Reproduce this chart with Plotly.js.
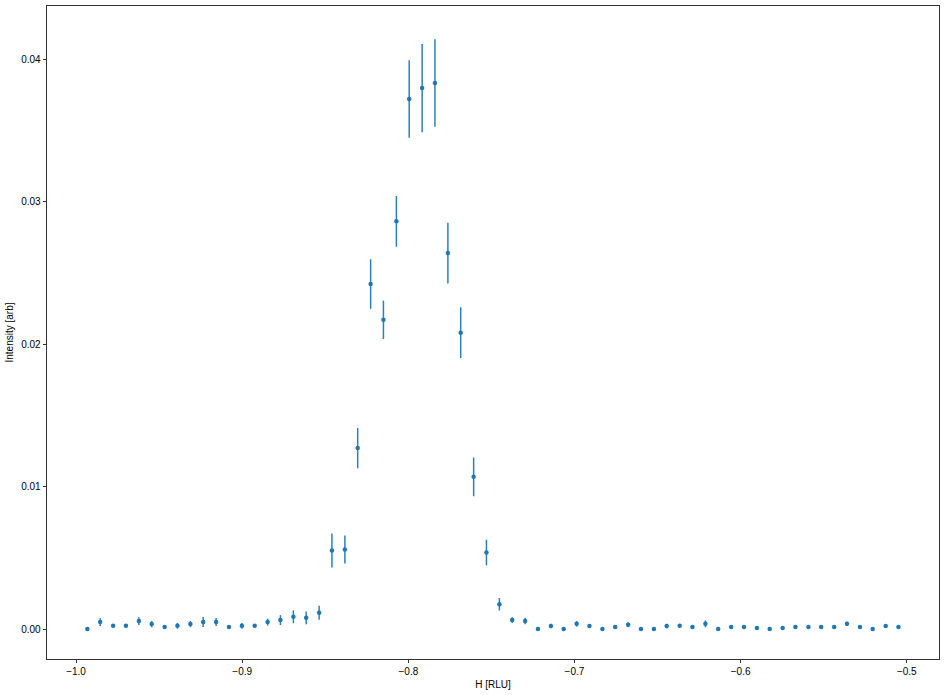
<!DOCTYPE html>
<html>
<head>
<meta charset="utf-8">
<script src="https://cdn.plot.ly/plotly-3.0.1.min.js"></script>
<style>
  html, body { margin: 0; padding: 0; background: #fff; }
  #plot { width: 946px; height: 695px; }
</style>
</head>
<body>
<div id="plot"></div>
<script>
// H positions of the scan
const hRlu = [
  -0.9932, -0.9855, -0.9777, -0.9700, -0.9622, -0.9545, -0.9467, -0.9390,
  -0.9312, -0.9235, -0.9157, -0.9080, -0.9002, -0.8925, -0.8847, -0.8770,
  -0.8692, -0.8615, -0.8537, -0.8460, -0.8382, -0.8305, -0.8227, -0.8150,
  -0.8072, -0.7995, -0.7917, -0.7840, -0.7762, -0.7685, -0.7607, -0.7530,
  -0.7452, -0.7375, -0.7297, -0.7220, -0.7142, -0.7065, -0.6987, -0.6910,
  -0.6832, -0.6755, -0.6677, -0.6600, -0.6522, -0.6445, -0.6367, -0.6290,
  -0.6212, -0.6135, -0.6057, -0.5980, -0.5902, -0.5825, -0.5747, -0.5670,
  -0.5592, -0.5515, -0.5437, -0.5360, -0.5282, -0.5205, -0.5127, -0.5050
];

const intensity = [
  0.00000, 0.00049, 0.00023, 0.00023, 0.00056, 0.00035, 0.00014, 0.00023,
  0.00035, 0.00049, 0.00049, 0.00014, 0.00023, 0.00023, 0.00049, 0.00063,
  0.00086, 0.00079, 0.00114, 0.00551, 0.00558, 0.01270, 0.02421, 0.02170,
  0.02861, 0.03720, 0.03796, 0.03831, 0.02638, 0.02080, 0.01068, 0.00537,
  0.00174, 0.00063, 0.00056, 0.00000, 0.00021, 0.00000, 0.00037, 0.00021,
  0.00000, 0.00014, 0.00030, 0.00000, 0.00000, 0.00021, 0.00023, 0.00014,
  0.00037, 0.00000, 0.00014, 0.00014, 0.00007, 0.00000, 0.00007, 0.00014,
  0.00014, 0.00014, 0.00014, 0.00037, 0.00014, 0.00000, 0.00021, 0.00014
];

const intensityErr = [
  0.00005, 0.00027, 0.00010, 0.00010, 0.00027, 0.00022, 0.00010, 0.00020,
  0.00022, 0.00035, 0.00028, 0.00010, 0.00020, 0.00010, 0.00024, 0.00035,
  0.00045, 0.00045, 0.00049, 0.00119, 0.00098, 0.00142, 0.00174, 0.00135,
  0.00178, 0.00272, 0.00310, 0.00307, 0.00213, 0.00178, 0.00136, 0.00090,
  0.00044, 0.00020, 0.00023, 0.00005, 0.00016, 0.00005, 0.00020, 0.00014,
  0.00005, 0.00010, 0.00017, 0.00005, 0.00005, 0.00016, 0.00010, 0.00010,
  0.00024, 0.00005, 0.00010, 0.00010, 0.00007, 0.00005, 0.00007, 0.00010,
  0.00010, 0.00010, 0.00010, 0.00015, 0.00010, 0.00005, 0.00010, 0.00010
];

const xTicks = [-1.0, -0.9, -0.8, -0.7, -0.6, -0.5];
const yTicks = [0.00, 0.01, 0.02, 0.03, 0.04];

var trace = {
    x: hRlu,
    y: intensity,
    type: 'scatter',
    mode: 'markers',
    marker: {color: '#1f77b4', size: 4.5},
    error_y: {
        type: 'data',
        array: intensityErr,
        visible: true,
        color: '#2b80bc',
        thickness: 1.5,
        width: 0
    },
    showlegend: false
};

const axisStyle = {
    showgrid: false,
    zeroline: false,
    showline: true,
    mirror: true,
    linecolor: '#000',
    linewidth: 0.8,
    ticks: 'outside',
    ticklen: 3.5,
    tickwidth: 0.8,
    tickcolor: '#000',
    tickfont: {family: 'Liberation Sans, Arial, sans-serif', size: 10, color: '#000'}
};

const layout = {
    width: 946,
    height: 695,
    margin: {l: 47, r: 7, t: 6, b: 36},
    paper_bgcolor: '#fff',
    plot_bgcolor: '#fff',
    font: {family: 'Liberation Sans, Arial, sans-serif', size: 10, color: '#000'},
    xaxis: Object.assign({}, axisStyle, {
        range: [-1.0175, -0.4806],
        tickvals: xTicks,
        tickformat: '.1f',
        title: {text: 'H [RLU]', font: {size: 10}, standoff: 4}
    }),
    yaxis: Object.assign({}, axisStyle, {
        range: [-0.0021, 0.04372],
        tickvals: yTicks,
        tickformat: '.2f',
        title: {text: 'Intensity [arb]', font: {size: 10}, standoff: 5}
    })
};

Plotly.newPlot('plot', [trace], layout, {displayModeBar: false, staticPlot: true});
</script>
</body>
</html>
